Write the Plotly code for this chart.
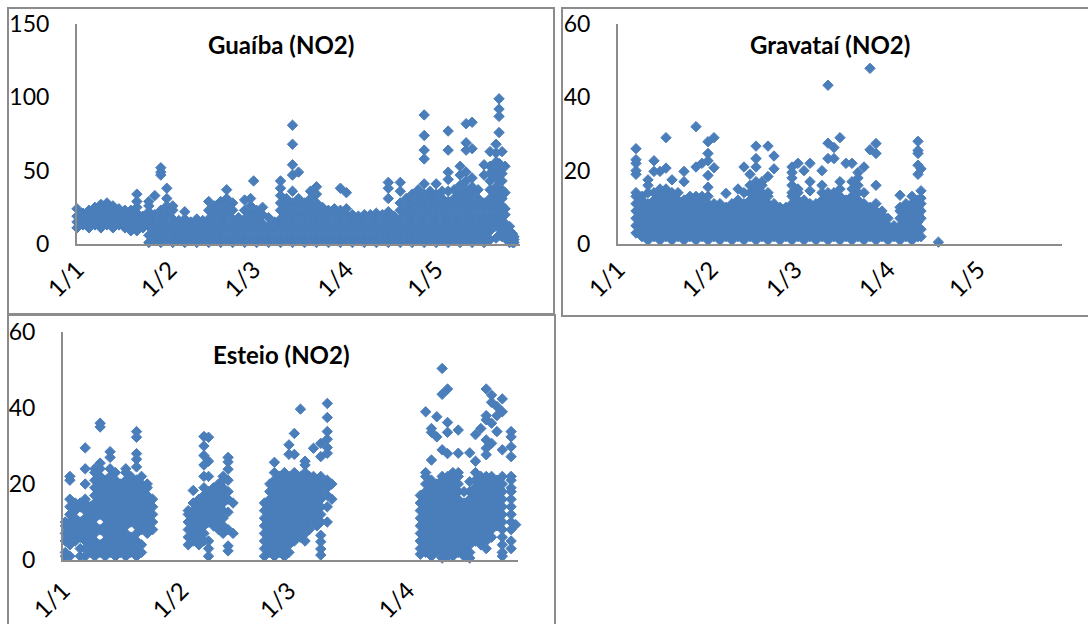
import plotly.graph_objects as go

TICK_DAYS = [0, 31, 59, 90, 120]
TICK_LABELS = ["1/1", "1/2", "1/3", "1/4", "1/5"]

guaiba_days = [0,2,4,6,8,10,12,14,16,18,20,22,24,26,28,30,32,34,36,38,40,42,44,46,48,50,52,54,56,58,59,60,62,64,66,68,70,72,74,
               76,78,80,82,84,86,88,90,92,94,96,98,100,102,104,106,108,110,112,114,116,118,120,122,124,126,128,130,132,134,136,138,140,141,142,143,144.5,145.5,146]
guaiba_values = [
 [11,15,19,24],[13,17,21],[11,15,19,23],[13,17,21,25],[11,15,19,23,27],[13,17,21,25,28],[11,15,19,23,26],[13,17,21,24],[11,15,19,23],[9,13,17,21,23],
 [9,13,17,21,25,29,34],[11,15,19],[1,6,12,17,22,26,29],[3,9,14,20,33],[1,6,12,17,23,47,49,52],[3,9,14,20,26,31,38],[1,6,12,17,23,26],[3,9,14,16],
 [1,6,12,17,22],[3,9,14,15],[1,6,12,17],[3,9,14,16],[1,6,12,17,23,29],[3,9,14,20,26],[1,6,12,17,23,29],[3,9,14,20,26,31,37],[1,6,12,17,23,28],
 [3,9,14,18],[1,6,12,17,23,30],[3,9,14,20,26,31],[43],[1,6,12,17,23],[3,9,14,20,25],[1,6,12,18],[3,9,15],[1,6,12,17,23,28,33,38,43],
 [3,9,14,20,26,31],[1,6,12,17,23,28,36,47,54,68,81],[3,9,14,20,26,31,49],[1,6,12,17,23,28],[3,9,14,20,26,31,36],[1,6,12,17,23,28,34,39],
 [3,9,14,20,25],[1,6,12,17,23],[3,9,14,20,24],[1,6,12,17,23,38],[3,9,14,20,24,35],[1,6,12,17,20],[3,9,14,19],[1,6,12,17,20],[3,9,14,20],
 [1,6,12,17,21],[3,9,14,20],[1,6,12,17,22,31,38,42],[3,9,14,19],[1,6,12,17,23,28,36,42],[3,9,14,20,25,31],[1,6,12,17,23,28,34],
 [3,9,14,20,26,31,37],[1,6,12,17,23,28,34,41,58,64,74,88],[3,9,14,20,26,31,36],[1,6,12,17,23,28,34,41],[3,9,14,20,26,31,36],
 [1,6,12,17,23,29,36,44,49,64,77],[3,9,14,20,26,31,37],[1,6,12,17,23,28,34,40,47,53],[3,9,14,20,26,31,37,43,49,64,69,82],
 [1,6,12,17,23,28,34,39,45,65,83],[3,9,14,20,26,31,37],[1,6,12,17,23,28,47,54],[3,9,14,20,26,31,37,43,48,53,63],
 [4,12,17,23,28,34,39,45,50,56,62,68],[6,14,20,26,31,37,43,49,55,76,87,92,99],[5,9,14,20,26,31,37,43,48,53,63],[4,9,14,20,24,35,53],
 [1,5,9,12],[1,4,7],[1,3,5],
]

gravatai_days = [6,8,10,12,14,16,18,20,22,24,26,28,30,32,34,36,38,40,42,44,46,48,50,52,54,56,58,60,62,64,66,68,70,72,74,76,78,80,82,84,86,88,90,92,94,96,98,100,101,106.8]
gravatai_values = [
 [3,5,7,9,11,13,14,19,20,22,23,26],[2,4,6,8,10,12,13],[1,3,5,7,9,11,14,16,17.5],[2,4,6,8,10,12,14,19.8,22.7],[1,3,5,7,9,11,13,15,19.8],
 [2,4,6,8,10,12,14,15,20.7,29],[1,3,5,7,9,11,13,14,17.5],[2,4,6,8,10,12,14],[1,3,5,7,9,11,12,17,19.8],[2,4,6,8,10,12,13],
 [1,3,5,7,9,11,13,21,32],[2,4,6,8,10,12,13,22],[1,3,5,7,9,11,13,15.5,18.7,22.7,24.7,27.9],[2,4,6,8,10,11,20.8,29],[1,3,5,7,9,11],
 [2,4,6,8,10,13.8],[1,3,5,7,9,11],[2,4,6,8,10,12,15],[1,3,5,7,9,11,14,21],[2,4,6,8,10,12,14,16,19],[1,3,5,7,9,11,13,15,17,21,23.3,26.7],
 [2,4,6,8,10,12,14,16,17],[1,3,5,7,9,11,13,14,18.4,26.7],[2,4,6,8,10,11,20.5,24],[1,3,5,7,9,10],[2,4,6,8,10],[1,3,5,7,9,11,13,14,16,18,19.5,21],
 [2,4,6,8,10,12,14,15,22],[1,3,5,7,9,11,12,20],[2,4,6,8,10,11,14.5,17,22],[1,3,5,7,9,11],[2,4,6,8,10,12,14,16,20],[1,3,5,7,9,11,13,14,23.3,27.5,43.3],
 [2,4,6,8,10,12,14,23.3,26.3],[1,3,5,7,9,11,13,15,17,29],[2,4,6,8,10,12,22],[1,3,5,7,9,11,13,15,17,22],[2,4,6,8,10,12,14,16,18,19.5],
 [1,3,5,7,9,11,14,21],[2,4,6,8,10,25.7,47.9],[1,3,5,7,9,11,16,24.7,27.4],[2,4,6,8,9],[1,3,5,7],[2,4,5],[1,3,5,7,9,10,13.3],[2,4,6,8,10,11],
 [1,3,5,7,9,11,13],[2,4,6,8,10,12,19,21.5,24.7,25.5,28],[2,4,7,9,11,12.5,14.5,20.5],[0.5],
]

esteio_days = [0.6,1.8,3.2,4.5,5.8,7.2,8.3,9.7,11,12.3,13.7,15,16.4,17.7,19.2,20.5,22,23.4,
               32.7,34,35.5,36.8,38,39.3,40.6,41.8,43.1,44.4,
               52.6,54,55.2,56.6,57.8,59,60.4,62,63.2,64.3,65.4,66.3,67.3,69,70.2,
               93.3,94.7,96.2,97.6,99,100.4,101.8,103.2,104.7,106.2,107.7,109.1,110.5,111.9,113.3,114.7,117,118.2]
esteio_values = [
 [1,2,5,7,9,10],[1,4,6,8,10,12,14,16,21,22],[5,7,9,11,13,15],[1,3,6,8,10,14,15],[1,3,5,7,9,11,13,15,16,20,24,29.5],[2,4,6,8,10,12,14],
 [1,3,5,7,9,11,13,15,17,19,21,23,24],[2,4,8,12,14,16,18,20,22,24,25.5,35,36],[1,3,5,7,9,11,13,15,17,19,21],[2,4,6,8,10,12,14,16,18,20,22,24,27,28.5],
 [1,3,5,7,9,11,13,15,17,19,21,23],[2,4,6,8,10,12,14,16,18,20],[1,3,5,7,9,11,13,15,17,19,21,23,24],[2,4,6,10,12,14,16,18,20,22],
 [1,3,5,7,9,11,13,15,17,19,21,24.5,26.5,28,32.3,33.8],[2,4,8,10,12,14,16,18,20,22],[7,9,11,13,15,17,19,20],[8,10,12,14,16],
 [4,6,8,10,12,13],[5,7,9,11,13,15,18.3],[4,6,8,10,12,14,16],[5,7,9,11,13,15,17,19,22,25,27.5,30,32.5],[1,3,5,10,12,14,16,18,22,26,32.3],
 [9,11,13,15,17,19],[8,10,12,14,16,18,20],[7,9,11,13,15,17,19,21,22],[2.4,3.7,8,12.6,16,18,21,23.9,25.8,27],[7,15],
 [1,3,5,7,9,11,13,15],[2,4,6,8,10,12,14,16,18,20],[1,3,5,7,9,11,13,15,17,19,21,23,25.7],[2,4,6,8,10,12,14,16,18,20,22],
 [1,3,5,7,9,11,13,15,17,19,21,23],[2,4,6,8,10,12,14,16,18,20,22,27.8,30.3],[5,7,9,11,13,15,17,19,21,23,27.8,33.3],[6,8,10,12,14,16,18,20,22,39.7],
 [5,7,9,11,13,15,17,19,21,23,25,26],[8,10,12,14,16,18,20,22],[10,12,14,16,18,20,22,29.4],[9,11,13,15,17,19,21],[1.3,2.9,4.8,6.5,10,12,14,16,18,20,22,27.2,30.7],
 [10,14,17,19,21,28.1,29.6,31.8,33.8,37.5,41.2],[16,20],
 [1.5,3,5,7,9,11,13,15,17],[2,4,6,8,10,12,14,16,18,20,22,23,39],[1,3,5,7,9,11,13,15,17,19,21,26.3,34.6,33.6],[2,4,6,8,10,12,14,16,18,20,32.4,37.7],
 [0.5,3,5,7,9,11,13,15,17,19,21,22,29,43.6,50.4],[1,2,4,6,8,10,12,14,16,18,20,22,28,33.6,36.2,45],[1,3,5,7,9,11,13,15,17,19,21,23],
 [2,4,6,8,10,12,14,16,18,20,22,23,28.1,34.2],[1,3,5,7,9,11,13,15,18],[0.5,2,4,6,8,10,12,14,16,18,20.6,28.2],[5,7,9,11,13,15,17,19,21,23,26,33],
 [4,6,8,10,12,14,16,18,20,22,34.6],[3,5,7,9,11,13,15,17,19,21,22,27.7,29.4,31.6,36.9,38,45],[6,8,10,12,14,16,18,20,22,30.7,36,41.5,43.4],
 [9,11,13,15,17,19,21,33.8,38,40.4],[1,2,4,6,8,10,12,14,16,18,20,22,29,39,42.4],[3,5,8,10,12,14,16,18,19,21,22,27.2,29.8,32.4,33.8],[9.3],
]


def flatten(days, columns):
    xs, ys = [], []
    for d, col in zip(days, columns):
        for v in col:
            xs.append(d)
            ys.append(v)
    return xs, ys


W, H = 1088, 624
BLUE = "#4A7EBB"
GREY = "#8C8C8C"
FONT = "Lato"

fig = go.Figure()
panels = [
    ("", guaiba_days, guaiba_values, 77, 520, 24, 244, 148, [0, 50, 100, 150], 150, TICK_DAYS, TICK_LABELS, "Guaíba (NO2)", 281, 45, 0),
    ("2", gravatai_days, gravatai_values, 618, 1062, 24, 244, 148, [0, 20, 40, 60], 60, TICK_DAYS, TICK_LABELS, "Gravataí (NO2)", 830, 45, 0),
    ("3", esteio_days, esteio_values, 63, 518, 332, 560, 118.8, [0, 20, 40, 60], 60, TICK_DAYS[:4], TICK_LABELS[:4], "Esteio (NO2)", 281, 354, 5),
]
annotations = []
for suffix, days, values, x0, x1, y0, y1, xmax, yticks, ymax, tdays, tlabels, title, tx, ty, xoff in panels:
    xs, ys = flatten(days, values)
    fig.add_trace(go.Scatter(x=xs, y=ys, mode="markers", cliponaxis=False, showlegend=False,
                             marker=dict(symbol="diamond", size=8, color=BLUE, line=dict(width=1, color=BLUE)),
                             xaxis="x" + suffix, yaxis="y" + suffix))
    fig.layout["xaxis" + suffix] = dict(
        domain=[x0 / W, x1 / W], range=[0, xmax], anchor="y" + suffix, showgrid=False, zeroline=False,
        showline=True, linecolor=GREY, linewidth=2, tickmode="array", tickvals=tdays, ticktext=tlabels,
        tickangle=-45, ticks="", ticklabelstandoff=xoff, tickfont=dict(family=FONT, size=24, color="black"))
    fig.layout["yaxis" + suffix] = dict(
        domain=[1 - y1 / H, 1 - y0 / H], range=[0, ymax], anchor="x" + suffix, showgrid=False, zeroline=False,
        showline=True, linecolor=GREY, linewidth=2, tickmode="array", tickvals=yticks, ticks="",
        ticklabelstandoff=21, tickfont=dict(family=FONT, size=23, color="black"))
    annotations.append(dict(text="<b>%s</b>" % title, x=tx / W, y=1 - ty / H, xref="paper", yref="paper",
                            showarrow=False, xanchor="center", yanchor="middle",
                            font=dict(family=FONT, size=24, color="black")))

frames = [(8, 8, 554, 314), (562, 8, 1095, 316), (8, 315, 555, 640)]
shapes = [dict(type="rect", xref="paper", yref="paper", x0=a / W, x1=c / W, y0=1 - b / H, y1=1 - d / H,
               line=dict(color=GREY, width=2), layer="below") for a, b, c, d in frames]

fig.update_layout(width=W, height=H, margin=dict(l=0, r=0, t=0, b=0, autoexpand=False), paper_bgcolor="white", plot_bgcolor="white",
                  annotations=annotations, shapes=shapes, font=dict(family=FONT))
fig.write_html("out.html", config={"displayModeBar": False},
               post_script="document.body.style.margin='0';document.body.style.overflow='hidden';")
